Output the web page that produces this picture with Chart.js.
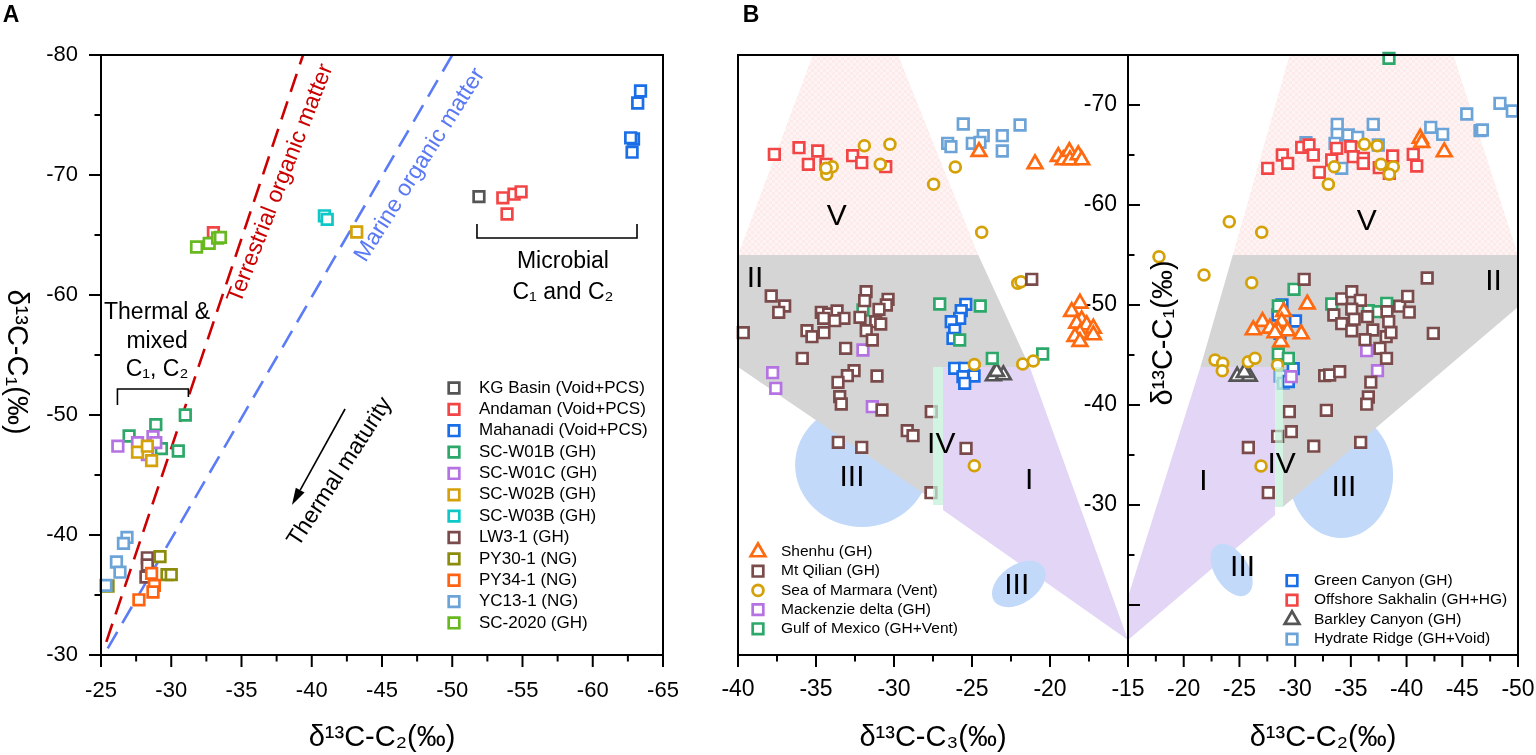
<!DOCTYPE html>
<html><head><meta charset="utf-8">
<script src="https://cdn.jsdelivr.net/npm/chart.js@4.4.1/dist/chart.umd.min.js"></script>
<style>
html,body{margin:0;padding:0;background:#fff;}
body{width:1536px;height:755px;position:relative;overflow:hidden;}
canvas{position:absolute;top:0;}
</style></head><body>
<canvas id="cA" width="700" height="755" style="left:0;z-index:1"></canvas>
<canvas id="cBR" width="496" height="755" style="left:1040px;z-index:1"></canvas>
<canvas id="cBL" width="445" height="755" style="left:700px;z-index:2"></canvas>
<script>
const FONT = "'Liberation Sans', Arial, Helvetica, sans-serif";
Chart.defaults.font.family = FONT;

// ================= Panel A data: [δ13C-C2, δ13C-C1] =================
const kgBasin  = [[-51.9,-68.2]];
const andaman  = [[-53.6,-68.1],[-53.9,-66.75],[-54.4,-68.4],[-54.9,-68.6],[-33.0,-65.2]];
const mahanadi = [[-63.4,-77.0],[-63.2,-76.0],[-62.9,-73.0],[-62.7,-73.1],[-62.8,-71.9]];
const scW01B   = [[-31.0,-50.0],[-28.9,-49.2],[-27.0,-48.25],[-29.3,-47.2],[-30.5,-47.0]];
const scW01C   = [[-26.2,-47.4],[-27.6,-47.7],[-28.7,-48.2],[-28.9,-47.7],[-28.3,-46.7]];
const scW02B   = [[-27.6,-46.9],[-28.3,-47.4],[-28.6,-46.2],[-43.2,-65.25]];
const scW03B   = [[-40.9,-66.6],[-41.1,-66.3]];
const lw31     = [[-28.3,-38.1],[-28.3,-37.5],[-28.2,-36.5]];
const py301    = [[-29.2,-38.2],[-29.7,-36.7],[-30.0,-36.7],[-25.5,-35.75]];
const py341    = [[-28.6,-36.8],[-28.8,-35.8],[-28.7,-35.25],[-27.7,-34.6]];
const yc131    = [[-26.85,-39.8],[-26.6,-39.3],[-26.1,-37.75],[-26.35,-36.9],[-25.35,-35.8]];
const sc2020   = [[-31.8,-64.0],[-32.7,-64.3],[-33.3,-64.75],[-33.5,-64.8]];
const terrestrialLine = [[-25.38,-31.1],[-39.38,-80]];
const marineLine      = [[-25.48,-30.56],[-50.0,-80]];

// ================= Panel B data: C3 (left) and C2 (right) vs C1 =================
const shenhuC3 = [[-24.55,-65.33],[-20.96,-64.1],[-19.47,-64.83],[-19.15,-64.5],[-18.76,-65.33],[-18.72,-64.5],[-18.19,-65.0],[-17.97,-64.5],[-18.08,-50.17],[-18.61,-49.33],[-17.97,-48.5],[-18.29,-48.17],[-17.65,-48.0],[-17.22,-47.67],[-17.22,-47.0],[-18.08,-47.17],[-18.4,-46.83],[-18.08,-46.33]];
const shenhuC2 = [[-41.23,-66.67],[-41.36,-66.23],[-43.38,-65.3],[-31.09,-50.08],[-28.97,-49.33],[-27.07,-48.33],[-26.24,-47.5],[-27.74,-47.67],[-28.79,-48.33],[-28.49,-47.4],[-29.31,-47.4],[-30.55,-47.1],[-28.71,-46.32],[-28.19,-47.2]];
const qilianC3 = [[-37.87,-50.9],[-37.01,-49.9],[-37.39,-49.27],[-39.66,-47.23],[-35.58,-47.43],[-35.26,-46.83],[-34.49,-47.23],[-34.66,-49.27],[-34.19,-49.1],[-33.65,-49.4],[-33.21,-48.67],[-33.8,-48.43],[-34.51,-48.67],[-31.79,-51.33],[-31.88,-50.43],[-32.18,-48.77],[-30.38,-50.57],[-30.49,-50.0],[-30.96,-49.57],[-31.17,-48.33],[-30.85,-48.1],[-31.78,-47.43],[-31.39,-46.5],[-33.1,-45.67],[-35.88,-44.67],[-32.56,-43.43],[-32.99,-42.93],[-33.59,-42.27],[-31.09,-42.9],[-33.48,-40.83],[-33.38,-40.1],[-30.77,-39.5],[-27.61,-39.33],[-29.15,-37.43],[-28.78,-36.93],[-33.57,-36.27],[-32.07,-35.77],[-25.38,-35.67],[-27.63,-31.23],[-21.17,-52.57]];
const qilianC2 = [[-30.81,-52.57],[-41.85,-52.7],[-34.18,-50.62],[-35.08,-51.33],[-35.85,-50.47],[-35.08,-49.58],[-33.47,-49.0],[-34.18,-48.13],[-35.3,-48.58],[-36.49,-48.83],[-35.08,-47.42],[-36.97,-47.5],[-36.27,-46.53],[-38.24,-49.33],[-38.4,-48.33],[-39.38,-49.88],[-40.1,-50.87],[-40.24,-49.28],[-38.17,-46.83],[-38.6,-47.25],[-37.61,-45.67],[-38.2,-44.67],[-42.4,-47.17],[-32.65,-42.93],[-33.1,-43.0],[-34.0,-43.33],[-36.79,-42.28],[-36.57,-40.8],[-36.42,-40.08],[-32.8,-39.47],[-29.48,-39.33],[-29.66,-37.33],[-28.43,-36.87],[-31.67,-35.88],[-35.88,-36.27],[-25.8,-35.75],[-27.59,-31.23]];
const marmaraC3 = [[-31.9,-65.93],[-30.26,-66.07],[-34.31,-63.07],[-33.96,-63.83],[-34.36,-63.67],[-30.88,-64.07],[-27.46,-62.07],[-26.07,-63.8],[-24.38,-57.27],[-22.07,-52.17],[-21.86,-52.33],[-24.85,-44.05],[-21.75,-44.1],[-21.07,-44.4],[-24.85,-33.93]];
const marmaraC2 = [[-17.78,-54.83],[-21.82,-53.0],[-24.09,-58.33],[-27.0,-57.27],[-26.1,-52.23],[-32.98,-62.07],[-33.51,-63.83],[-36.21,-66.07],[-37.37,-65.93],[-37.7,-64.07],[-38.81,-63.83],[-38.45,-63.07],[-22.81,-44.5],[-23.5,-44.17],[-23.46,-43.43],[-25.8,-44.33],[-26.4,-44.67],[-28.42,-44.0],[-26.94,-33.9]];
const mackenzieC3 = [[-37.78,-43.23],[-37.58,-41.67],[-31.99,-45.5],[-31.39,-39.83]];
const mackenzieC2 = [[-29.65,-42.83],[-36.42,-45.43],[-37.39,-43.43]];
const gomC3 = [[-27.07,-50.1],[-24.47,-49.9],[-25.79,-46.5],[-23.7,-44.67],[-20.47,-45.1],[-31.99,-49.5]];
const gomC2 = [[-38.42,-74.67],[-29.9,-51.57],[-28.49,-49.9],[-33.28,-50.1],[-36.57,-49.43],[-37.46,-49.33],[-38.22,-50.17],[-28.49,-45.1],[-29.39,-44.67]];
const greenCanyonC3 = [[-25.4,-50.07],[-25.69,-49.43],[-25.79,-48.67],[-26.33,-48.33],[-26.11,-47.5],[-26.22,-46.67],[-26.11,-43.67],[-25.47,-43.67],[-25.58,-42.83],[-24.87,-42.9],[-25.47,-42.17]];
const greenCanyonC2 = [[-28.82,-50.0],[-30.03,-48.4],[-28.46,-49.0],[-28.64,-47.17],[-29.83,-43.63],[-29.39,-42.35]];
const sakhalinC3 = [[-37.67,-65.07],[-36.09,-65.73],[-34.89,-65.4],[-35.49,-64.07],[-34.36,-64.07],[-32.65,-64.93],[-32.07,-64.23],[-30.53,-63.83]];
const sakhalinC2 = [[-27.54,-63.67],[-28.85,-65.0],[-29.33,-64.17],[-30.59,-65.77],[-31.24,-66.0],[-31.63,-65.0],[-32.17,-63.27],[-33.73,-65.67],[-33.28,-64.5],[-34.99,-65.83],[-35.22,-64.83],[-36.12,-64.67],[-36.12,-64.17],[-37.55,-63.73],[-38.75,-64.9],[-38.45,-63.17],[-40.6,-65.07],[-40.91,-63.9]];
const barkleyC3 = [[-23.63,-42.9],[-22.99,-43.0],[-23.42,-43.33]];
const barkleyC2 = [[-24.8,-42.87],[-25.88,-42.87],[-25.44,-43.23]];
const hydrateC3 = [[-25.56,-68.1],[-26.56,-66.17],[-26.35,-65.83],[-24.98,-66.17],[-24.28,-66.93],[-24.49,-66.27],[-23.06,-66.93],[-23.06,-65.4],[-21.92,-68.0]];
const hydrateC2 = [[-48.38,-70.17],[-49.49,-69.4],[-45.4,-69.1],[-46.59,-67.43],[-46.8,-67.5],[-42.17,-67.77],[-43.24,-67.07],[-37.01,-68.07],[-33.78,-68.07],[-33.78,-67.07],[-34.77,-67.0],[-35.61,-66.77],[-30.97,-66.23],[-33.58,-66.17],[-34.18,-63.67],[-37.46,-66.0],[-28.64,-42.9],[-28.94,-42.17]];

// genetic zones (data coordinates)
const zoneV_C3   = [[-35.2,-75],[-29.74,-75],[-24.6,-55],[-40,-55]];
const zoneII_C3  = [[-40,-55],[-24.6,-55],[-21.3,-43.8],[-27.5,-43.8],[-27.5,-30.5],[-40,-43.8]];
const zoneI_C3   = [[-26.86,-43.8],[-21.3,-43.8],[-15,-16.5],[-26.86,-29.5]];
const zoneIV_C3  = [[-27.5,-43.8],[-26.86,-43.8],[-26.86,-30.0],[-27.5,-30.0]];
const zoneV_C2   = [[-29.5,-75],[-44.2,-75],[-50,-55],[-24.4,-55]];
const zoneII_C2  = [[-24.4,-55],[-50,-55],[-50,-49.8],[-28.9,-29.8],[-28.9,-43.8],[-21.5,-43.8]];
const zoneI_C2   = [[-21.5,-43.8],[-28.2,-43.8],[-28.2,-29.0],[-15,-16.5],[-15,-20.8]];
const zoneIV_C2  = [[-28.2,-43.8],[-28.9,-43.8],[-28.9,-29.8],[-28.2,-29.8]];

const xy = a => a.map(p => ({x: p[0], y: p[1]}));

// ---------- helpers ----------
function drawText(ctx, str, x, y, deg, size, color, weight, align) {
  ctx.save(); ctx.translate(x, y); if (deg) ctx.rotate(deg * Math.PI / 180);
  ctx.font = (weight ? weight + ' ' : '') + size + 'px ' + FONT;
  ctx.fillStyle = color || '#000'; ctx.textAlign = align || 'center'; ctx.textBaseline = 'middle';
  ctx.fillText(str, 0, 0); ctx.restore();
}
function drawMarker(ctx, style, x, y, color, r, lw) {
  ctx.save(); ctx.lineWidth = lw; ctx.strokeStyle = color; ctx.fillStyle = '#fff';
  ctx.beginPath();
  if (style === 'rect') { const s = r * Math.SQRT1_2; ctx.rect(x - s, y - s, 2 * s, 2 * s); }
  else if (style === 'circle') { ctx.arc(x, y, r, 0, 2 * Math.PI); }
  else { for (let k = 0; k < 3; k++) { const an = k * 2 * Math.PI / 3; const X = x + Math.sin(an) * r, Y = y - Math.cos(an) * r; k ? ctx.lineTo(X, Y) : ctx.moveTo(X, Y); } ctx.closePath(); }
  ctx.fill(); ctx.stroke(); ctx.restore();
}
const STY = { rect: {r: 7.5, w: 2.7}, circle: {r: 5.4, w: 2.8}, triangle: {r: 8.5, w: 2.7} };

function pointDS(label, data, color, style, order) {
  const s = STY[style];
  return { label, data: xy(data), showLine: false, pointStyle: style, pointRadius: s.r, pointHoverRadius: s.r,
    pointBorderWidth: s.w, pointHoverBorderWidth: s.w, pointBorderColor: color, pointBackgroundColor: '#fff',
    borderColor: color, backgroundColor: '#fff', order, clip: 8 };
}
function lineDS(data, color) {
  return { data: xy(data), showLine: true, borderColor: color, borderWidth: 2.6, borderDash: [19, 10],
    pointRadius: 0, pointHoverRadius: 0, fill: false, order: 100 };
}
// horizontal axes: fixed height, no extra side padding from edge labels
const fitX = s => { s.height = 100; s.paddingLeft = 0; s.paddingRight = 0; };

// axes frame + ticks (major/minor)
const axesPlugin = {
  id: 'axes',
  afterDraw(chart, args, o) {
    const {ctx, chartArea: a, scales} = chart;
    ctx.save(); ctx.strokeStyle = '#000'; ctx.lineWidth = 2;
    ctx.strokeRect(a.left, a.top, a.right - a.left, a.bottom - a.top);
    const set = (t, isX) => {
      const s = isX ? scales.x : scales.y;
      const n = Math.round((t.to - t.from) / t.minor);
      for (let i = 0; i <= n; i++) {
        if (t.skipEnds && (i === 0 || i === n)) continue;
        const v = t.from + i * t.minor;
        const major = Math.abs(v / t.major - Math.round(v / t.major)) < 1e-6;
        const len = major ? 12 : 6.5, p = s.getPixelForValue(v);
        ctx.beginPath();
        if (isX) { ctx.moveTo(p, a.bottom); ctx.lineTo(p, a.bottom + len); }
        else { ctx.moveTo(a.left, p); ctx.lineTo(a.left + t.dir * len, p); }
        ctx.stroke();
      }
    };
    if (o.x) set(o.x, true);
    if (o.y) set(o.y, false);
    ctx.restore();
  }
};

// legend drawn at a fixed place inside the plot
const boxLegend = {
  id: 'boxLegend',
  afterDraw(chart, args, o) {
    const {ctx, chartArea: a} = chart;
    o.items.forEach((it, i) => {
      const y = a.top + o.y0 + i * o.dy, s = STY[it.style];
      drawMarker(ctx, it.style, a.left + o.mx, y, it.color, s.r, s.w);
      drawText(ctx, it.label, a.left + o.tx, y, 0, o.size, '#000', '', 'left');
    });
  }
};

// zones for panel B
function pinkPattern(ctx) {
  const c = document.createElement('canvas'); c.width = 6; c.height = 6;
  const g = c.getContext('2d'); g.fillStyle = '#fef4f4'; g.fillRect(0, 0, 6, 6);
  g.fillStyle = '#fdeaea'; g.fillRect(0, 0, 3, 3); g.fillRect(3, 3, 3, 3);
  return ctx.createPattern(c, 'repeat');
}
function drawZone(chart, z) {
  const {ctx} = chart, X = chart.scales.x, Y = chart.scales.y;
  ctx.fillStyle = z.fill === 'pink' ? pinkPattern(ctx) : z.fill;
  ctx.beginPath();
  if (z.pts) {
    z.pts.forEach((p, i) => { const px = X.getPixelForValue(p[0]), py = Y.getPixelForValue(p[1]); i ? ctx.lineTo(px, py) : ctx.moveTo(px, py); });
    ctx.closePath();
  } else {
    const cx = X.getPixelForValue(z.c[0]), cy = Y.getPixelForValue(z.c[1]);
    const rx = Math.abs(X.getPixelForValue(z.c[0] + z.rx) - cx), ry = Math.abs(Y.getPixelForValue(z.c[1] + z.ry) - cy);
    ctx.ellipse(cx, cy, rx, ry, (z.rot || 0) * Math.PI / 180, 0, 2 * Math.PI);
  }
  ctx.fill();
}
const zonesPlugin = {
  id: 'zones',
  beforeDatasetsDraw(chart, args, o) {
    const {ctx, chartArea: a} = chart;
    ctx.save(); ctx.beginPath(); ctx.rect(a.left, a.top, a.right - a.left, a.bottom - a.top); ctx.clip();
    o.under.forEach(z => drawZone(chart, z));
    ctx.restore();
  },
  afterDatasetsDraw(chart, args, o) {
    const {ctx, chartArea: a} = chart, X = chart.scales.x, Y = chart.scales.y;
    ctx.save(); ctx.beginPath(); ctx.rect(a.left, a.top, a.right - a.left, a.bottom - a.top); ctx.clip();
    o.over.forEach(z => drawZone(chart, z));
    ctx.restore();
    o.labels.forEach(l => drawText(ctx, l[0], X.getPixelForValue(l[1]), Y.getPixelForValue(l[2]), 0, 30, '#000'));
    if (o.extra) o.extra(chart);
  }
};

const PURPLE = '#e3d5f6', GRAY = '#d5d5d5', BLUE = '#c2d9fa', MINT = 'rgba(192,240,216,0.72)';

// ================= Panel A =================
const seriesA = [
  ['KG Basin (Void+PCS)', kgBasin, '#555555'],
  ['Andaman (Void+PCS)', andaman, '#f24646'],
  ['Mahanadi (Void+PCS)', mahanadi, '#1a6ee6'],
  ['SC-W01B (GH)', scW01B, '#2ea86a'],
  ['SC-W01C (GH)', scW01C, '#b572e2'],
  ['SC-W02B (GH)', scW02B, '#d4a108'],
  ['SC-W03B (GH)', scW03B, '#0ec8c8'],
  ['LW3-1 (GH)', lw31, '#7b4b4b'],
  ['PY30-1 (NG)', py301, '#8c8c0c'],
  ['PY34-1 (NG)', py341, '#ff6210'],
  ['YC13-1 (NG)', yc131, '#6ca4d8'],
  ['SC-2020 (GH)', sc2020, '#68b820']
];

const annoA = {
  id: 'annoA',
  afterDatasetsDraw(chart) {
    const {ctx} = chart, X = v => chart.scales.x.getPixelForValue(v), Y = v => chart.scales.y.getPixelForValue(v);
    drawText(ctx, 'Terrestrial organic matter', X(-37.78), Y(-69.29), -68.7, 23, '#cc0000');
    drawText(ctx, 'Marine organic matter', X(-47.7), Y(-70.83), -57.7, 23, '#5b78f5');
    drawText(ctx, 'Microbial', X(-57.88), Y(-62.75), 0, 23, '#000');
    drawText(ctx, 'C₁ and C₂', X(-57.88), Y(-60.17), 0, 23, '#000');
    drawText(ctx, 'Thermal &', X(-28.99), Y(-58.5), 0, 23, '#000');
    drawText(ctx, 'mixed', X(-28.99), Y(-56.08), 0, 23, '#000');
    drawText(ctx, 'C₁, C₂', X(-28.99), Y(-53.75), 0, 23, '#000');
    drawText(ctx, 'Thermal maturity', X(-42.01), Y(-45.25), -57, 23, '#000');
    ctx.save(); ctx.strokeStyle = '#000'; ctx.fillStyle = '#000'; ctx.lineWidth = 1.6;
    ctx.beginPath(); ctx.moveTo(X(-51.76), Y(-65.92)); ctx.lineTo(X(-51.76), Y(-64.75)); ctx.lineTo(X(-63.15), Y(-64.75)); ctx.lineTo(X(-63.15), Y(-65.92)); ctx.stroke();
    ctx.beginPath(); ctx.moveTo(X(-26.17), Y(-50.83)); ctx.lineTo(X(-26.17), Y(-52.17)); ctx.lineTo(X(-31.22), Y(-52.17)); ctx.lineTo(X(-31.22), Y(-51.5)); ctx.stroke();
    const x1 = X(-42.37), y1 = Y(-50.5), x2 = X(-38.59), y2 = Y(-42.5);
    const an = Math.atan2(y2 - y1, x2 - x1), L = 17, W = 5;
    const bx = x2 - L * Math.cos(an), by = y2 - L * Math.sin(an);
    ctx.beginPath(); ctx.moveTo(x1, y1); ctx.lineTo(bx, by); ctx.stroke();
    ctx.beginPath(); ctx.moveTo(x2, y2); ctx.lineTo(bx - W * Math.sin(an), by + W * Math.cos(an)); ctx.lineTo(bx + W * Math.sin(an), by - W * Math.cos(an)); ctx.closePath(); ctx.fill();
    ctx.restore();
    drawText(ctx, 'A', 11, 16, 0, 23, '#000', 'bold');
    drawText(ctx, 'δ¹³C-C₁(‰)', 16, 362, 90, 29, '#000');
  }
};

new Chart(document.getElementById('cA'), {
  type: 'scatter',
  data: { datasets: [lineDS(terrestrialLine, '#cc0000'), lineDS(marineLine, '#5b7cf6')]
    .concat(seriesA.map((s, i) => pointDS(s[0], s[1], s[2], 'rect', 50 - i))) },
  options: {
    responsive: false, animation: false, events: [],
    layout: { padding: { left: 0, top: 55, right: 37, bottom: 0 } },
    plugins: {
      legend: { display: false }, tooltip: { enabled: false },
      axes: { x: { from: -65, to: -25, major: 5, minor: 2.5 }, y: { from: -80, to: -30, major: 10, minor: 5, dir: -1 } },
      boxLegend: { mx: 353, tx: 378, y0: 333, dy: 21.36, size: 17, items: seriesA.map(s => ({label: s[0], color: s[2], style: 'rect'})) }
    },
    scales: {
      x: { type: 'linear', min: -65, max: -25, reverse: true, afterFit: fitX,
        grid: { display: false, drawTicks: false }, border: { display: false },
        ticks: { stepSize: 5, autoSkip: false, maxRotation: 0, padding: 23, color: '#000', font: { size: 22 }, callback: v => String(v) },
        title: { display: true, text: 'δ¹³C-C₂(‰)', color: '#000', font: { size: 29 }, padding: { top: 0, bottom: 0 } } },
      y: { type: 'linear', min: -80, max: -30, reverse: true, afterFit(s) { s.width = 101; },
        grid: { display: false, drawTicks: false }, border: { display: false },
        ticks: { stepSize: 10, autoSkip: false, padding: 23, color: '#000', font: { size: 22 }, callback: v => String(v) } }
    }
  },
  plugins: [annoA, axesPlugin, boxLegend]
});

// ================= Panel B =================
const seriesB = [
  { label: 'Shenhu (GH)', c3: shenhuC3, c2: shenhuC2, color: '#ff6a10', style: 'triangle', order: 12 },
  { label: 'Mt Qilian (GH)', c3: qilianC3, c2: qilianC2, color: '#7b4b4b', style: 'rect', order: 13 },
  { label: 'Sea of Marmara (Vent)', c3: marmaraC3, c2: marmaraC2, color: '#d4a108', style: 'circle', order: 14 },
  { label: 'Mackenzie delta (GH)', c3: mackenzieC3, c2: mackenzieC2, color: '#b572e2', style: 'rect', order: 15 },
  { label: 'Gulf of Mexico (GH+Vent)', c3: gomC3, c2: gomC2, color: '#2ea86a', style: 'rect', order: 16 },
  { label: 'Green Canyon (GH)', c3: greenCanyonC3, c2: greenCanyonC2, color: '#1a6ee6', style: 'rect', order: 18 },
  { label: 'Offshore Sakhalin (GH+HG)', c3: sakhalinC3, c2: sakhalinC2, color: '#f24646', style: 'rect', order: 17 },
  { label: 'Barkley Canyon (GH)', c3: barkleyC3, c2: barkleyC2, color: '#555555', style: 'triangle', order: 19 },
  { label: 'Hydrate Ridge (GH+Void)', c3: hydrateC3, c2: hydrateC2, color: '#6ca4d8', style: 'rect', order: 20 }
];
const legItem = s => ({ label: s.label, color: s.color, style: s.style });

const tickB = { size: 23 };
new Chart(document.getElementById('cBL'), {
  type: 'scatter',
  data: { datasets: seriesB.map(s => pointDS(s.label, s.c3, s.color, s.style, s.order)) },
  options: {
    responsive: false, animation: false, events: [],
    layout: { padding: { left: 0, top: 55, right: 17, bottom: 0 } },
    plugins: {
      legend: { display: false }, tooltip: { enabled: false },
      axes: { x: { from: -40, to: -15, major: 5, minor: 2.5 } },
      boxLegend: { mx: 20, tx: 43, y0: 497, dy: 19.2, size: 15.5, items: seriesB.slice(0, 5).map(legItem) },
      zones: {
        under: [
          { c: [-32.05, -34.0], rx: 4.29, ry: 6.2, rot: 0, fill: BLUE },
          { pts: zoneV_C3, fill: 'pink' },
          { pts: zoneII_C3, fill: GRAY },
          { pts: zoneI_C3, fill: PURPLE },
          { c: [-22.0, -22.1], rx: 1.92, ry: 1.9, rot: -35, fill: BLUE }
        ],
        over: [{ pts: zoneIV_C3, fill: MINT }],
        labels: [['V', -33.67, -58.83], ['II', -38.91, -52.67], ['III', -32.69, -32.77], ['IV', -26.97, -36.0], ['I', -21.34, -32.43], ['III', -22.13, -21.9]],
        extra(chart) { drawText(chart.ctx, 'B', 51, 16, 0, 23, '#000', 'bold'); }
      }
    },
    scales: {
      x: { type: 'linear', min: -40, max: -15, afterFit: fitX,
        grid: { display: false, drawTicks: false }, border: { display: false },
        ticks: { stepSize: 5, autoSkip: false, maxRotation: 0, padding: 21, color: '#000', font: tickB, callback: v => v === -15 ? '' : String(v) },
        title: { display: true, text: 'δ¹³C-C₃(‰)', color: '#000', font: { size: 29 }, padding: { top: 0, bottom: 0 } } },
      y: { type: 'linear', min: -75, max: -15, reverse: true, afterFit(s) { s.width = 38; },
        grid: { display: false, drawTicks: false }, border: { display: false }, ticks: { display: false } }
    }
  },
  plugins: [zonesPlugin, axesPlugin, boxLegend]
});

new Chart(document.getElementById('cBR'), {
  type: 'scatter',
  data: { datasets: seriesB.map(s => pointDS(s.label, s.c2, s.color, s.style, s.order)) },
  options: {
    responsive: false, animation: false, events: [],
    layout: { padding: { left: 0, top: 55, right: 18, bottom: 0 } },
    plugins: {
      legend: { display: false }, tooltip: { enabled: false },
      axes: { x: { from: -50, to: -15, major: 5, minor: 2.5 }, y: { from: -75, to: -15, major: 10, minor: 5, dir: 1, skipEnds: true } },
      boxLegend: { mx: 164, tx: 186, y0: 525.7, dy: 19.5, size: 15.5, items: seriesB.slice(5).map(legItem) },
      zones: {
        under: [
          { c: [-34.12, -33.0], rx: 4.67, ry: 6.3, rot: 0, fill: BLUE },
          { pts: zoneV_C2, fill: 'pink' },
          { pts: zoneII_C2, fill: GRAY },
          { pts: zoneI_C2, fill: PURPLE },
          { c: [-24.3, -23.5], rx: 2.6, ry: 1.7, rot: 58, fill: BLUE }
        ],
        over: [{ pts: zoneIV_C2, fill: MINT }],
        labels: [['V', -36.42, -58.33], ['II', -47.8, -52.33], ['I', -21.76, -32.33], ['IV', -28.79, -34.0], ['III', -34.38, -31.77], ['III', -25.28, -23.77]],
        extra(chart) { drawText(chart.ctx, 'δ¹³C-C₁(‰)', chart.chartArea.left + 36, 333, -90, 29, '#000'); }
      }
    },
    scales: {
      x: { type: 'linear', min: -50, max: -15, reverse: true, afterFit: fitX,
        grid: { display: false, drawTicks: false }, border: { display: false },
        ticks: { stepSize: 5, autoSkip: false, maxRotation: 0, padding: 21, color: '#000', font: tickB, callback: v => String(v) },
        title: { display: true, text: 'δ¹³C-C₂(‰)', color: '#000', font: { size: 29 }, padding: { top: 0, bottom: 0 } } },
      y: { type: 'linear', min: -75, max: -15, reverse: true, afterFit(s) { s.width = 88; },
        grid: { display: false, drawTicks: false }, border: { display: false },
        ticks: { stepSize: 5, autoSkip: false, padding: 11, color: '#000', font: tickB,
          callback: v => (v % 10 === 0 && v <= -30 && v >= -70) ? String(v) : '' } }
    }
  },
  plugins: [zonesPlugin, axesPlugin, boxLegend]
});
</script>
</body></html>
